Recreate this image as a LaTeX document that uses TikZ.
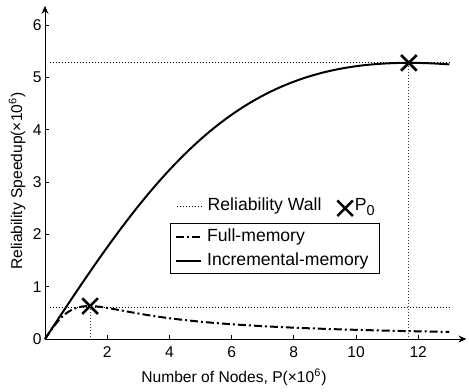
\documentclass[tikz,border=0pt]{standalone}
\usepackage{fontspec}
\setmainfont{Liberation Sans}
\usetikzlibrary{arrows.meta,shapes.misc}

\begin{document}
\begin{tikzpicture}[x=15.55pt, y=26.15pt, font=\fontsize{7.8}{9}\selectfont]
  \useasboundingbox (-22.5pt,-26pt) rectangle (212pt,169.5pt);
  \tikzset{wall/.style={line width=0.5pt, dash pattern=on 0.5pt off 1pt},
           drop/.style={line width=0.4pt, dash pattern=on 0.5pt off 1pt, black!80},
           fullmem/.style={line width=1pt, dash pattern=on 4pt off 1.5pt on 1pt off 1.5pt},
           incmem/.style={line width=1pt},
           pmark/.style={cross out, draw, line width=1.3pt, minimum size=6.5pt, inner sep=0pt},
           legtext/.style={anchor=west, inner sep=0pt, font=\fontsize{8.8}{10}\selectfont}}

 % axis
  \coordinate (o) at (0,0);
  \coordinate (xend) at (13.55,0);
  \coordinate (yend) at (0,6.37);
  \draw[-{Stealth[length=4pt,width=3.5pt]}, line width=0.45pt] (o) -- (xend);
  \draw[-{Stealth[length=4pt,width=3.5pt]}, line width=0.45pt] (o) -- (yend);
  \foreach \x in {2,4,...,12} {
    \draw[line width=0.4pt] (\x,0) -- ++(0,2pt);
    \node[below, inner sep=3.6pt] (xt\x) at (\x,0) {\x};
  }
  \foreach \y in {0,...,6} {
    \draw[line width=0.4pt] (0,\y) -- ++(2pt,0);
    \node[left, inner sep=1.5pt] (yt\y) at (0,\y) {\y};
  }
  \node (xlabel) at (94.5pt,-19pt) {Number of Nodes, P(×10\textsuperscript{6})};
  \node[rotate=90] (ylabel) at (-14pt,79pt) {Reliability Speedup(×10\textsuperscript{6})};

 % reliability walls
  \coordinate (wallhi0) at (0.15,5.28);
  \coordinate (wallhi1) at (13,5.28);
  \coordinate (walllo0) at (0.15,0.61);
  \coordinate (walllo1) at (13,0.61);
  \draw[wall] (wallhi0) -- (wallhi1);
  \draw[wall] (walllo0) -- (walllo1);

 % speedup curves
  \draw[fullmem] plot[domain=0:13, samples=150, smooth]
    (\x, {1.26*(\x/1.42)/(1+(\x/1.42)^2)});
  \draw[incmem] plot[domain=0:13, samples=120, smooth]
    (\x, {10.56*(\x/11.7)/(1+(\x/11.7)^2)});

 % optimal points P_0
  \node[pmark] (pfull) at (1.45,0.63) {};
  \node[pmark] (pinc) at (11.7,5.28) {};
  \draw[drop] (pfull.center) -- (pfull.center |- o);
  \draw[drop] (pinc.center) -- (pinc.center |- o);

 % legend
  \coordinate (lw0) at (4.24,2.54);
  \coordinate (lw1) at (5.05,2.54);
  \draw[wall] (lw0) -- (lw1);
  \node[legtext] (lwtext) at (5.22,2.54) {Reliability Wall};
  \node[pmark] (lpmark) at (9.65,2.5) {};
  \node[legtext] (lptext) at (9.95,2.52) {P\raisebox{-0.5ex}{\fontsize{7.2}{8}\selectfont 0}};

  \coordinate (box0) at (4.02,2.20);
  \coordinate (box1) at (10.74,1.26);
  \draw[line width=0.5pt] (box0) rectangle (box1);
  \coordinate (lf0) at (4.21,1.95);
  \coordinate (lf1) at (5.02,1.95);
  \draw[fullmem] (lf0) -- (lf1);
  \node[legtext] (lftext) at (5.2,1.95) {Full-memory};
  \coordinate (li0) at (4.21,1.49);
  \coordinate (li1) at (5.02,1.49);
  \draw[incmem] (li0) -- (li1);
  \node[legtext] (litext) at (5.2,1.49) {Incremental-memory};
\end{tikzpicture}
\end{document}
